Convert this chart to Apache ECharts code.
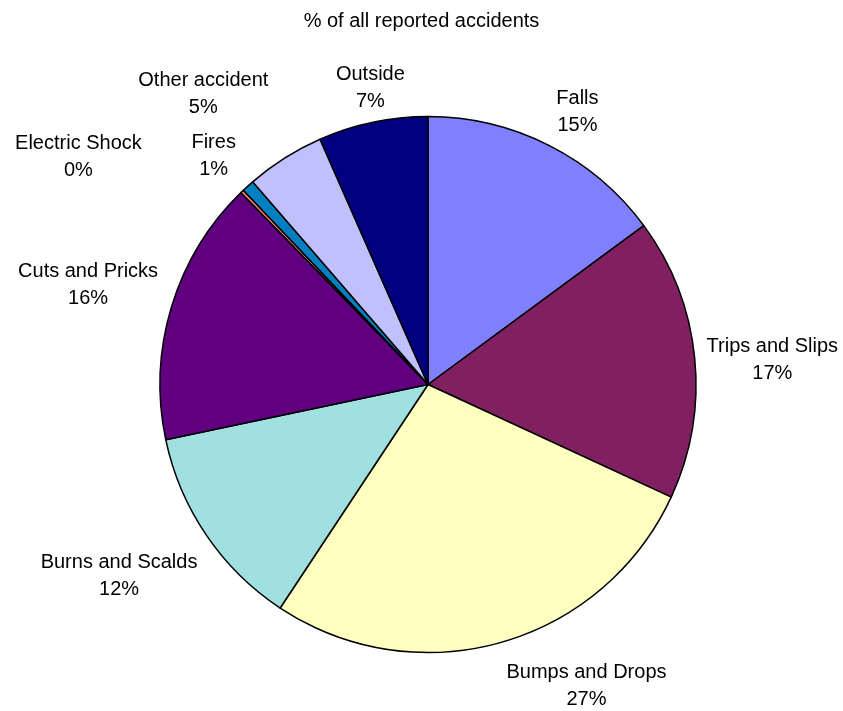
<!DOCTYPE html>
<html>
<head>
<meta charset="utf-8">
<script src="https://cdn.jsdelivr.net/npm/echarts@6/dist/echarts.min.js"></script>
<style>
html,body{margin:0;padding:0;background:#fff;}
#chart{width:843px;height:711px;}
</style>
</head>
<body>
<div id="chart"></div>
<script>
// ---- data ----
const titleText = '% of all reported accidents';
const categories = ['Falls', 'Trips and Slips', 'Bumps and Drops', 'Burns and Scalds', 'Cuts and Pricks', 'Electric Shock', 'Fires', 'Other accident', 'Outside'];
const shares = [14.9, 17.0, 27.4, 12.4, 16.0, 0.2, 0.75, 4.75, 6.6];
const sliceColors = ['#8080FF', '#802060', '#FFFFC0', '#A0E0E0', '#600080', '#FF8080', '#0080C0', '#C0C0FF', '#000080'];

// ---- layout / style ----
const FONT = '"Liberation Sans", Arial, Helvetica, sans-serif';
const CX = 428, CY = 384.5, R = 268;
const LABEL_GAP = 12;
const LABEL_DROP = 4;
// labels moved aside to avoid crowding / fine placement (as in the original)
const labelNudge = {
  'Electric Shock': [-92, -3],
  'Other accident': [-10, -31],
  'Fires': [-4, 2],
  'Cuts and Pricks': [-2, 5],
  'Burns and Scalds': [1, 3],
  'Falls': [2, 0],
  'Bumps and Drops': [2, 1]
};

const total = shares.reduce((a, b) => a + b, 0);
function midAngle(i) {
  let before = 0;
  for (let k = 0; k < i; k++) before += shares[k];
  return ((before + shares[i] / 2) / total) * 2 * Math.PI;
}

const chart = echarts.init(document.getElementById('chart'), null, { renderer: 'canvas' });
chart.setOption({
  animation: false,
  backgroundColor: '#ffffff',
  title: {
    text: titleText,
    left: 'center',
    top: 6,
    textStyle: { fontFamily: FONT, fontSize: 20, fontWeight: 'normal', color: '#000' }
  },
  series: [{
    type: 'pie',
    center: [CX, CY],
    radius: R,
    startAngle: 90,
    clockwise: true,
    avoidLabelOverlap: false,
    minShowLabelAngle: 0,
    silent: true,
    data: categories.map((name, i) => ({ name: name, value: shares[i], itemStyle: { color: sliceColors[i] } })),
    itemStyle: { borderColor: '#000', borderWidth: 1.5 },
    label: {
      show: true,
      position: 'outside',
      fontFamily: FONT,
      fontSize: 20,
      lineHeight: 27,
      color: '#000',
      align: 'center',
      formatter: p => p.name + '\n' + Math.round(p.percent) + '%'
    },
    labelLine: { show: false },
    labelLayout: function (params) {
      const i = params.dataIndex;
      const a = midAngle(i);
      const ux = Math.sin(a), uy = -Math.cos(a);
      const px = CX + ux * (R + LABEL_GAP), py = CY + uy * (R + LABEL_GAP);
      const w = params.labelRect.width, h = params.labelRect.height;
      const th = Math.sin(15 * Math.PI / 180);
      const sx = Math.abs(ux) < th ? 0 : Math.sign(ux);
      const sy = Math.abs(uy) < th ? 0 : Math.sign(uy);
      let x = px + sx * w / 2, y = py + sy * h / 2 + LABEL_DROP;
      const nudge = labelNudge[categories[i]];
      if (nudge) { x += nudge[0]; y += nudge[1]; }
      return { x: x, y: y, align: 'center', verticalAlign: 'middle' };
    }
  }]
});
</script>
</body>
</html>
